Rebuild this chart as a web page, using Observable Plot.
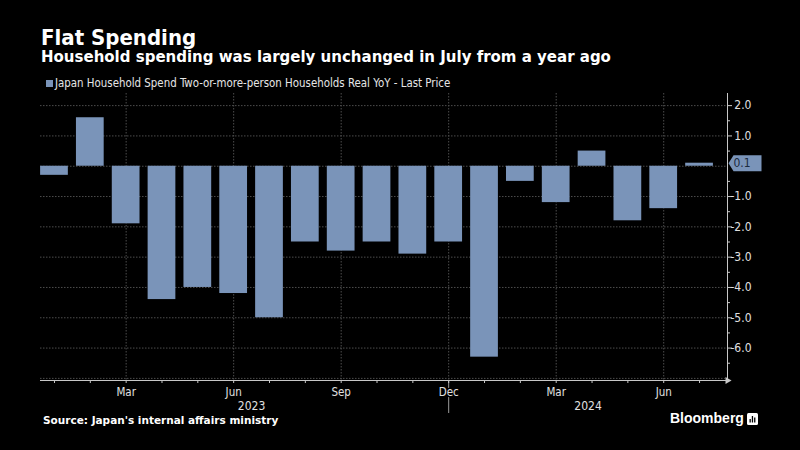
<!DOCTYPE html>
<html>
<head>
<meta charset="utf-8">
<script src="https://cdn.jsdelivr.net/npm/d3@7"></script>
<script src="https://cdn.jsdelivr.net/npm/@observablehq/plot@0.6"></script>
<style>
  html, body { margin: 0; padding: 0; background: #000; }
  body { width: 800px; height: 450px; overflow: hidden; position: relative; color: #fff;
         font-family: "DejaVu Sans Condensed", "DejaVu Sans", sans-serif; }
  #title { position: absolute; left: 41px; top: 25px; font-size: 22px; line-height: 26px; font-weight: bold; white-space: nowrap; }
  #subtitle { position: absolute; left: 41px; top: 48px; font-family: "DejaVu Sans", sans-serif; font-size: 15px; line-height: 18px; font-weight: bold; white-space: nowrap; }
  #legend { position: absolute; left: 46px; top: 77px; font-size: 11.4px; line-height: 13px; color: #e6e6e6; white-space: nowrap; }
  #legend .sw { display: inline-block; width: 7px; height: 7px; background: #7a94b9; margin-right: 2px; vertical-align: 0px; }
  #chart { position: absolute; left: 0; top: 88px; }
  #source { position: absolute; left: 43px; top: 414px; font-family: "DejaVu Sans", sans-serif; font-size: 10.5px; line-height: 12px; font-weight: bold; white-space: nowrap; }
  #brand { position: absolute; left: 670px; top: 410px; font-family: "Liberation Sans", Arial, sans-serif; font-size: 14px; line-height: 16px; font-weight: bold; white-space: nowrap; }
  #logo { position: absolute; left: 747px; top: 413px; }
</style>
</head>
<body>
<div id="title">Flat Spending</div>
<div id="subtitle">Household spending was largely unchanged in July from a year ago</div>
<div id="legend"><span class="sw"></span>Japan Household Spend Two-or-more-person Households Real YoY - Last Price</div>
<div id="chart"></div>
<div id="source">Source: Japan's internal affairs ministry</div>
<div id="brand">Bloomberg</div>
<svg id="logo" width="11" height="12" viewBox="0 0 11 12">
  <rect x="0" y="0" width="11" height="12" rx="1.5" fill="#fff"/>
  <rect x="2.5" y="6" width="1.3" height="3.5" fill="#000"/>
  <rect x="4.8" y="3" width="1.3" height="6.5" fill="#000"/>
  <rect x="7.1" y="4.5" width="1.3" height="5" fill="#000"/>
</svg>
<script>
// ---- data ----
const periods = ["2023-01","2023-02","2023-03","2023-04","2023-05","2023-06","2023-07","2023-08","2023-09","2023-10","2023-11","2023-12",
                 "2024-01","2024-02","2024-03","2024-04","2024-05","2024-06","2024-07"];
const values  = [-0.3, 1.6, -1.9, -4.4, -4.0, -4.2, -5.0, -2.5, -2.8, -2.5, -2.9, -2.5,
                 -6.3, -0.5, -1.2, 0.5, -1.8, -1.4, 0.1];
const tickPeriods = ["2023-03","2023-06","2023-09","2023-12","2024-03","2024-06"];
const tickLabels  = ["Mar","Jun","Sep","Dec","Mar","Jun"];
const yearLabels  = ["2023","2024"];
const yearBreak   = "2023-12";
const yTicks      = [2, 1, -1, -2, -3, -4, -5, -6];
const yGrid       = [2, 1, 0, -1, -2, -3, -4, -5, -6, -7];
const yMinor      = [1.5, 0.5, -0.5, -1.5, -2.5, -3.5, -4.5, -5.5, -6.5];

// ---- layout / style ----
const barColor = "#7a94b9";
const gridColor = "#4d4d4d";
const axisColor = "#c8c8c8";
const labelColor = "#e0e0e0";
const xMin = -0.39, xMax = 18.78;
const yMin = -7.07, yMax = 2.4;
const halfBar = 0.387;

const idx = p => periods.indexOf(p);
const bars = periods.map((p, i) => ({i, period: p, v: values[i]}));
const ticks = tickPeriods.map((p, k) => ({i: idx(p), label: tickLabels[k]}));
const breakI = idx(yearBreak);
const years = [
  {label: yearLabels[0], x: (0 + breakI) / 2},
  {label: yearLabels[1], x: (breakI + xMax) / 2}
];
const last = bars[bars.length - 1];

const tagSymbol = {
  draw(ctx) {
    ctx.moveTo(1, 0);
    ctx.lineTo(6, -8);
    ctx.lineTo(34, -8);
    ctx.lineTo(34, 8);
    ctx.lineTo(6, 8);
    ctx.closePath();
  }
};

const chart = Plot.plot({
  width: 800,
  height: 330,
  marginTop: 5,
  marginBottom: 38,
  marginLeft: 40,
  marginRight: 73,
  style: {background: "transparent", color: labelColor, fontFamily: "'DejaVu Sans Condensed', 'DejaVu Sans', sans-serif", fontSize: "11px", overflow: "visible"},
  x: {type: "linear", domain: [xMin, xMax], axis: null},
  y: {domain: [yMin, yMax], axis: null},
  marks: [
    // grid
    Plot.ruleY(yGrid, {stroke: gridColor, strokeDasharray: "1.5,1.5", strokeWidth: 1}),
    Plot.ruleX(ticks, {x: "i", stroke: gridColor, strokeDasharray: "1.5,1.5", strokeWidth: 1}),
    // bars
    Plot.rectY(bars, {x1: d => d.i - halfBar, x2: d => d.i + halfBar, y1: 0, y2: "v", fill: barColor}),
    // year separator
    Plot.ruleX([breakI], {y1: yMin, y2: yMin, insetBottom: -33, stroke: "#9a9a9a"}),
    // axis lines
    Plot.ruleY([yMin], {stroke: axisColor}),
    Plot.ruleX([xMax], {stroke: axisColor}),
    Plot.dot([{x: xMax, y: yMin}], {x: "x", y: "y", symbol: "triangle", rotate: 90, r: 2.6, fill: axisColor, stroke: null}),
    // x axis: minor ticks and labels
    Plot.axisX(bars.map(d => d.i), {tickSize: 3, tickFormat: () => "", stroke: axisColor}),
    Plot.text(ticks, {x: "i", y: yMin, text: "label", dy: 12, fill: labelColor, fontSize: 11.5, stroke: "#000", strokeWidth: 3, paintOrder: "stroke"}),
    Plot.text(years, {x: "x", y: yMin, text: "label", dy: 26, fill: labelColor, fontSize: 12}),
    // y axis: ticks and labels on the right
    Plot.ruleY(yTicks, {x1: xMax, x2: xMax, insetRight: -5, stroke: axisColor}),
    Plot.ruleY(yMinor, {x1: xMax, x2: xMax, insetRight: -3, stroke: axisColor}),
    Plot.text(yTicks, {x: xMax, y: d => d, text: d => d.toFixed(1), dx: 24, textAnchor: "end", fill: labelColor, fontSize: 12}),
    // last price tag
    Plot.dot([last], {x: xMax, y: "v", symbol: tagSymbol, fill: barColor, stroke: null}),
    Plot.text([last], {x: xMax, y: "v", text: d => d.v.toFixed(1), dx: 6, textAnchor: "start", fill: "#1c2b3f", fontSize: 12})
  ]
});
document.getElementById("chart").appendChild(chart);
</script>
</body>
</html>
